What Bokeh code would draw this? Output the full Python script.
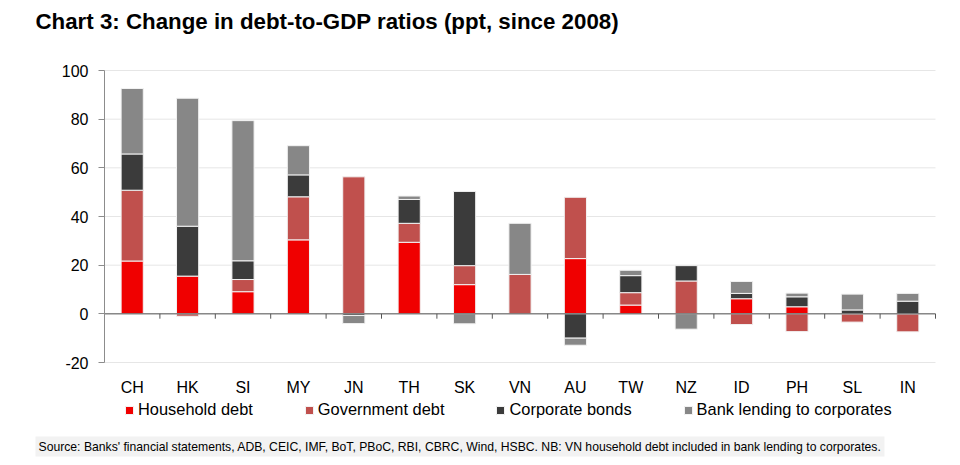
import numpy as np
from bokeh.plotting import figure
from bokeh.models import (Range1d, FixedTicker, Legend, LegendItem, Label, ColumnDataSource,
                          LinearAxis)
from bokeh.embed import file_html
from bokeh.resources import INLINE

categories = ["CH", "HK", "SI", "MY", "JN", "TH", "SK", "VN", "AU", "TW", "NZ", "ID", "PH", "SL", "IN"]
household = [21.7, 15.5, 9.1, 30.4, 0.0, 29.4, 12.0, 0.0, 22.7, 3.6, 0.0, 6.2, 2.9, 0.0, 0.0]
government = [29.1, -1.0, 5.0, 17.7, 56.3, 7.8, 7.8, 16.2, 25.2, 5.1, 13.5, -4.4, -7.3, -3.4, -7.4]
corporate = [14.9, 20.5, 7.7, 9.0, -0.7, 9.8, 30.5, 0.0, -10.0, 7.0, 6.3, 2.2, 4.1, 1.6, 5.2]
bank = [26.9, 52.6, 57.6, 12.0, -3.3, 1.4, -4.1, 21.0, -2.9, 2.2, -6.3, 4.9, 1.5, 6.5, 3.2]

series_names = ["Household debt", "Government debt", "Corporate bonds", "Bank lending to corporates"]
series_values = [household, government, corporate, bank]
colors = ["#F00000", "#C0504D", "#3B3B3B", "#878787"]
y_ticks = [-20, 0, 20, 40, 60, 80, 100]

title_text = "Chart 3: Change in debt-to-GDP ratios (ppt, since 2008)"
source_text = ("Source: Banks' financial statements, ADB, CEIC, IMF, BoT, PBoC, RBI, CBRC, Wind, HSBC. "
               "NB: VN household debt included in bank lending to corporates.")

FONT = "Liberation Sans"
W, H = 960, 465
# plot-area placement in pixels (layout only)
FL, FR, FT, FB = 104, 935, 70, 362
n = len(categories)
y_lo, y_hi = min(y_ticks), max(y_ticks)
ppu_y = (FB - FT) / (y_hi - y_lo)
ppu_x = (FR - FL) / n
x_range = Range1d(-FL / ppu_x, n + (W - FR) / ppu_x)
y_range = Range1d(y_lo - (H - FB) / ppu_y, y_hi + FT / ppu_y)

p = figure(x_range=x_range, y_range=y_range, width=W, height=H, title=None,
           x_axis_location=None, y_axis_location=None,
           output_backend="svg", toolbar_location=None,
           min_border_left=0, min_border_right=0, min_border_top=0, min_border_bottom=0)
p.outline_line_color = None
p.grid.grid_line_color = None

centers = np.arange(n) + 0.5
edges = np.arange(n + 1)

# horizontal gridlines across the plot area
gsrc = ColumnDataSource(dict(y=y_ticks, x0=[0] * len(y_ticks), x1=[n] * len(y_ticks)))
p.segment(x0="x0", x1="x1", y0="y", y1="y", source=gsrc, line_color="#E6E6E6", line_width=1)

# stacked bars (positives stack up, negatives stack down)
pos = np.zeros(n)
neg = np.zeros(n)
items = []
for name, vals, col in zip(series_names, series_values, colors):
    v = np.array(vals, dtype=float)
    bottom = np.where(v >= 0, pos, neg)
    top = bottom + v
    pos = np.where(v >= 0, top, pos)
    neg = np.where(v < 0, top, neg)
    src = ColumnDataSource(dict(x=centers, bottom=bottom, top=top, cat=categories))
    r = p.vbar(x="x", bottom="bottom", top="top", width=0.4, source=src,
               fill_color=col, line_color="#F2F2F2", line_width=1)
    items.append(LegendItem(label=name, renderers=[r]))

# zero line with tick marks between categories
p.segment(x0=[0], x1=[n], y0=[0], y1=[0], line_color="#555555", line_width=1)
tsrc = ColumnDataSource(dict(x=edges[1:], y0=[0] * n, y1=[-2] * n))
p.segment(x0="x", x1="x", y0="y0", y1="y1", source=tsrc, line_color="#555555", line_width=1)

# value axis
yax = LinearAxis(fixed_location=0, bounds=(y_lo, y_hi), ticker=FixedTicker(ticks=y_ticks),
                 major_label_overrides={t: str(t) for t in y_ticks})
yax.axis_line_color = "#8C8C8C"
yax.major_tick_line_color = "#8C8C8C"
yax.major_tick_out = 6
yax.major_tick_in = 0
yax.minor_tick_line_color = None
yax.major_label_text_font = FONT
yax.major_label_text_font_size = "16px"
yax.major_label_text_color = "black"
yax.major_label_standoff = 10
p.add_layout(yax, "left")

# category axis
xax = LinearAxis(fixed_location=y_lo, ticker=FixedTicker(ticks=list(centers)),
                 major_label_overrides={float(c): lab for c, lab in zip(centers, categories)})
xax.axis_line_color = None
xax.major_tick_line_color = None
xax.minor_tick_line_color = None
xax.major_label_text_font = FONT
xax.major_label_text_font_size = "16px"
xax.major_label_text_color = "black"
xax.major_label_standoff = 10
p.add_layout(xax, "below")

legend = Legend(items=items, orientation="horizontal", location=(124, 46),
                glyph_width=10, glyph_height=10, label_standoff=4, spacing=51,
                padding=0, margin=0, border_line_color=None, background_fill_alpha=0,
                label_text_font=FONT, label_text_font_size="16.4px", label_text_color="black")
p.add_layout(legend)

p.add_layout(Label(x=35, y=H - 21, x_units="screen", y_units="screen", text=title_text,
                   text_font=FONT, text_font_size="22.3px", text_font_style="bold",
                   text_color="black", text_baseline="alphabetic", text_align="left"))

p.add_layout(Label(x=35, y=19, x_units="screen", y_units="screen", text=source_text,
                   text_font=FONT, text_font_size="12.2px", text_color="black",
                   text_baseline="alphabetic", text_align="left",
                   background_fill_color="#F2F2F2", padding=3))

open("out.html", "w").write(file_html(p, INLINE))
